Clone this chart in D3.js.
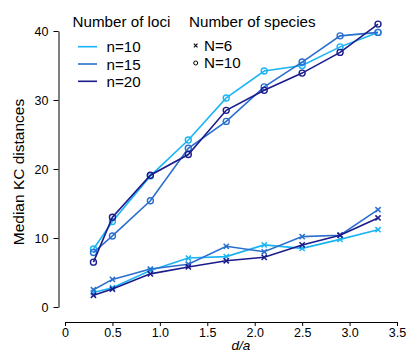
<!DOCTYPE html>
<html><head><meta charset="utf-8">
<script src="https://cdn.jsdelivr.net/npm/d3@7"></script>
<style>
html,body{margin:0;padding:0;background:#fff;}
svg{display:block;font-family:"Liberation Sans",Arial,sans-serif;}
</style></head>
<body><svg id="c" width="409" height="360"></svg>
<script>
const xValues = [0.3, 0.5, 0.9, 1.3, 1.7, 2.1, 2.5, 2.9, 3.3];
const lociLabels = ["n=10", "n=15", "n=20"];
const speciesLabels = ["N=6", "N=10"];
// N=10 (circles)
const circ_n10 = [8.4, 12.4, 19.0, 24.2, 30.3, 34.2, 35.0, 37.7, 39.8];
const circ_n15 = [7.9, 10.3, 15.4, 23.0, 26.9, 31.9, 35.5, 39.3, 39.8];
const circ_n20 = [6.5, 13.0, 19.1, 22.1, 28.5, 31.4, 33.9, 36.9, 41.0];
// N=6 (crosses)
const cross_n10 = [2.1, 2.8, 5.3, 7.1, 7.3, 9.0, 8.5, 9.8, 11.2];
const cross_n15 = [2.5, 4.0, 5.5, 6.2, 8.8, 8.0, 10.2, 10.4, 14.1];
const cross_n20 = [1.7, 2.6, 4.8, 5.8, 6.7, 7.2, 9.0, 10.4, 12.9];
const xTicks = [0, 0.5, 1.0, 1.5, 2.0, 2.5, 3.0, 3.5];
const yTicks = [0, 10, 20, 30, 40];

const colors = ["#1ab4f4", "#2a6fcf", "#1b1b8c"];
const svg = d3.select("#c");
const x = d3.scaleLinear().domain([0, 3.5]).range([65, 397]);
const y = d3.scaleLinear().domain([0, 40]).range([307, 31]);

// axes
const xa = svg.append("g").attr("transform", "translate(0,322)")
  .call(d3.axisBottom(x).tickValues(xTicks).tickSize(4).tickSizeOuter(0).tickPadding(2)
    .tickFormat(d => d === 0 ? "0" : d3.format(".1f")(d)));
const ya = svg.append("g").attr("transform", "translate(58.5,0)")
  .call(d3.axisLeft(y).tickValues(yTicks).tickSize(5).tickSizeOuter(0).tickPadding(5));
[xa, ya].forEach(a => {
  a.selectAll("text").attr("font-size", 12.5).attr("fill", "#000").attr("font-family", "Liberation Sans, Arial, sans-serif");
  a.selectAll("path,line").attr("stroke", "#000");
});

svg.append("text").attr("x", 241).attr("y", 350).attr("text-anchor", "middle")
  .attr("font-size", 13.5).attr("font-style", "italic").text("d/a");
svg.append("text").attr("transform", "translate(24,172) rotate(-90)").attr("text-anchor", "middle")
  .attr("font-size", 15.5).text("Median KC distances");

const line = d3.line().x((d, i) => x(xValues[i])).y(d => y(d));
const crossSeries = [cross_n10, cross_n15, cross_n20];
const circSeries = [circ_n10, circ_n15, circ_n20];

function drawCross(g, cx, cy, s, col, w) {
  g.append("path").attr("d", `M${cx - s},${cy - s}L${cx + s},${cy + s}M${cx - s},${cy + s}L${cx + s},${cy - s}`)
    .attr("stroke", col).attr("stroke-width", w).attr("fill", "none");
}

[0, 1, 2].forEach(k => {
  const g = svg.append("g");
  g.append("path").attr("d", line(crossSeries[k])).attr("fill", "none")
    .attr("stroke", colors[k]).attr("stroke-width", 1.6);
  crossSeries[k].forEach((v, i) => drawCross(g, x(xValues[i]), y(v), 2.6, colors[k], 1.5));
  g.append("path").attr("d", line(circSeries[k])).attr("fill", "none")
    .attr("stroke", colors[k]).attr("stroke-width", 1.6);
  circSeries[k].forEach((v, i) => g.append("circle").attr("cx", x(xValues[i])).attr("cy", y(v))
    .attr("r", 3).attr("fill", "none").attr("stroke", colors[k]).attr("stroke-width", 1.4));
});

// legend
svg.append("text").attr("x", 72.5).attr("y", 27).attr("font-size", 15.2).text("Number of loci");
svg.append("text").attr("x", 189).attr("y", 27).attr("font-size", 15.2).text("Number of species");
lociLabels.forEach((t, i) => {
  const yy = 46.7 + i * 17.3;
  svg.append("line").attr("x1", 78).attr("x2", 97).attr("y1", yy).attr("y2", yy)
    .attr("stroke", colors[i]).attr("stroke-width", 1.6);
  svg.append("text").attr("x", 106.5).attr("y", yy + 5.5).attr("font-size", 15.2).text(t);
});
speciesLabels.forEach((t, i) => {
  const yy = 45.5 + i * 17.5;
  if (i === 0) drawCross(svg, 195.7, yy, 1.8, "#000", 1.1);
  else svg.append("circle").attr("cx", 195.7).attr("cy", yy).attr("r", 2).attr("fill", "none")
    .attr("stroke", "#000").attr("stroke-width", 1);
  svg.append("text").attr("x", 204).attr("y", yy + 5.3).attr("font-size", 15.2).text(t);
});
</script></body></html>
